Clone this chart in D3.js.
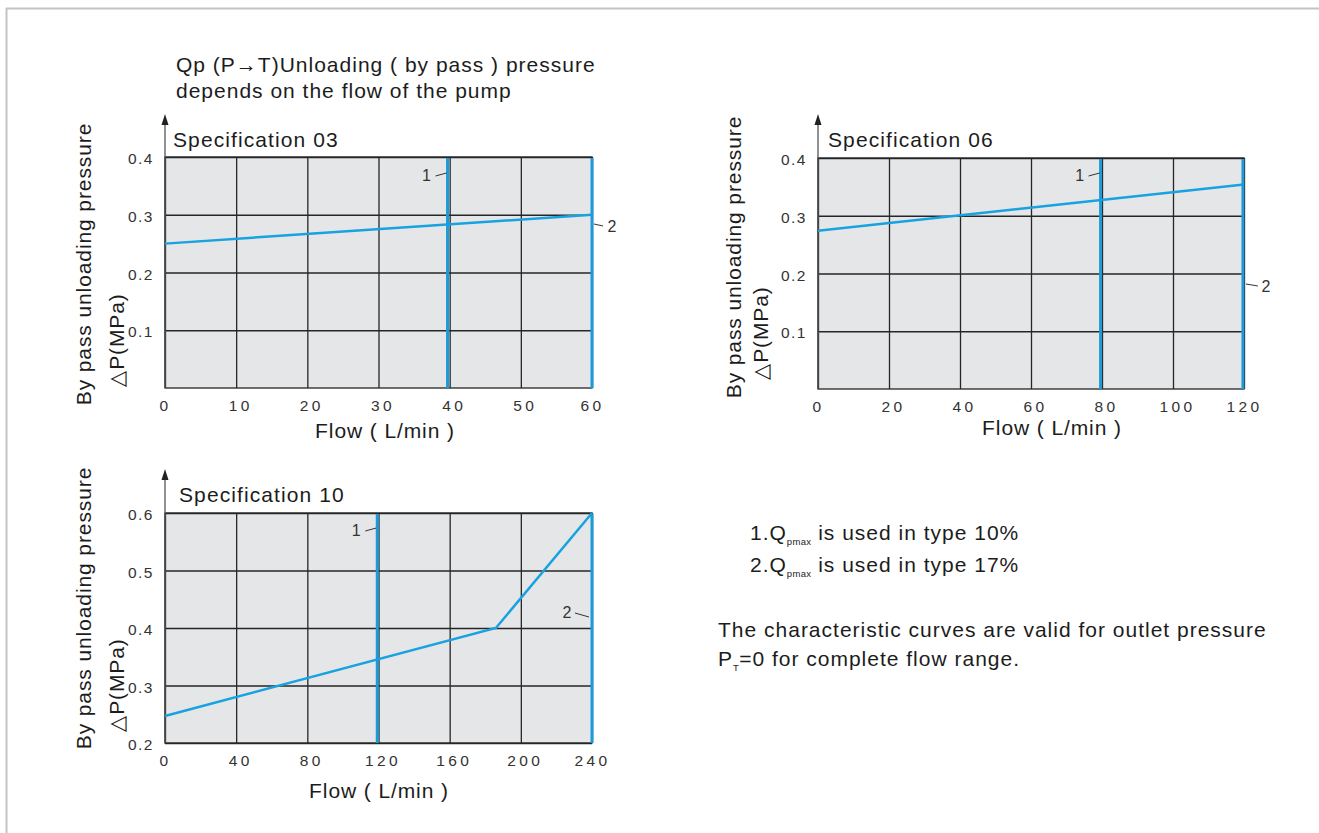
<!DOCTYPE html>
<html><head><meta charset="utf-8">
<script src="https://cdn.jsdelivr.net/npm/d3@7"></script>
<style>
body{margin:0;background:#fff;}
svg{display:block;font-family:"Liberation Sans",Arial,Helvetica,sans-serif;}
</style>
</head><body>
<svg id="c" width="1319" height="833"></svg>
<script>
// ---------------- data ----------------
const spec03Flow = [0, 60];
const spec03Pressure = [0.25, 0.30];
const spec03QpMax = [39.7, 60];
const spec03XTicks = [0, 10, 20, 30, 40, 50, 60];
const spec03YTicks = [0.1, 0.2, 0.3, 0.4];

const spec06Flow = [0, 120];
const spec06Pressure = [0.274, 0.354];
const spec06QpMax = [79.6, 119.7];
const spec06XTicks = [0, 20, 40, 60, 80, 100, 120];
const spec06YTicks = [0.1, 0.2, 0.3, 0.4];

const spec10Flow = [0, 186, 240];
const spec10Pressure = [0.247, 0.40, 0.60];
const spec10QpMax = [119.3, 240];
const spec10XTicks = [0, 40, 80, 120, 160, 200, 240];
const spec10YTicks = [0.2, 0.3, 0.4, 0.5, 0.6];

const qpLabels = ["1", "2"];
const specNames = ["Specification 03", "Specification 06", "Specification 10"];
const titleLines = ["Qp (P\u2192T)Unloading ( by pass ) pressure", "depends on the flow of the pump"];
const yTitleLines = ["By pass unloading pressure", "\u25B3P(MPa)"];
const xTitle = "Flow ( L/min )";

// ---------------- layout ----------------
const svg = d3.select("#c");
const BLUE = "#17a2e0";
const QBLUE = "#1b9bd8";
const GRID = "#262626";
const TXT = "#1c1c1c";
const FS = 21, LS = 1.0;

// page frame
svg.append("line").attr("x1", 6).attr("x2", 1319).attr("y1", 8.5).attr("y2", 8.5)
  .attr("stroke", "#c4c4c4").attr("stroke-width", 2);
svg.append("line").attr("x1", 6.5).attr("x2", 6.5).attr("y1", 8).attr("y2", 833)
  .attr("stroke", "#c4c4c4").attr("stroke-width", 2);

// main title
svg.append("g").selectAll("text").data(titleLines).join("text")
  .attr("x", 176).attr("y", (d, i) => 72 + i * 26)
  .attr("font-size", FS).attr("letter-spacing", LS).attr("fill", TXT).text(d => d);

const charts = [
  { name: specNames[0], flow: spec03Flow, p: spec03Pressure, qp: spec03QpMax, xt: spec03XTicks, yt: spec03YTicks,
    xd: [0, 60], yd: [0, 0.4], L: 165, R: 592, T: 157, B: 388, tip: 114,
    spec: [173, 147], yl: [[91, 264], [124, 340]], xl: [385, 438],
    lab1: { dx: -21, dy: 24, l: [-12, 19, -1, 16] }, lab2: { dx: 20, dy: 75, l: [2, 67, 11, 69] } },
  { name: specNames[1], flow: spec06Flow, p: spec06Pressure, qp: spec06QpMax, xt: spec06XTicks, yt: spec06YTicks,
    xd: [0, 120], yd: [0, 0.4], L: 818, R: 1244, T: 158, B: 389, tip: 114,
    spec: [828, 147], yl: [[741, 257], [768, 333]], xl: [1052, 435],
    lab1: { dx: -21, dy: 23, l: [-12, 18, -1, 15] }, lab2: { dx: 23, dy: 134, l: [3, 126, 15, 128] } },
  { name: specNames[2], flow: spec10Flow, p: spec10Pressure, qp: spec10QpMax, xt: spec10XTicks, yt: spec10YTicks,
    xd: [0, 240], yd: [0.2, 0.6], L: 165, R: 592, T: 513, B: 743, tip: 469,
    spec: [179, 502], yl: [[91, 608], [124, 685]], xl: [379, 798],
    lab1: { dx: -21, dy: 23, l: [-12, 18, -1, 15] }, lab2: { dx: -25, dy: 105, l: [-17, 100, -3, 104] } }
];

charts.forEach(c => {
  const g = svg.append("g");
  const x = d3.scaleLinear().domain(c.xd).range([c.L, c.R]);
  const y = d3.scaleLinear().domain(c.yd).range([c.B, c.T]);

  // plot background
  g.append("rect").attr("x", c.L).attr("y", c.T).attr("width", c.R - c.L).attr("height", c.B - c.T)
    .attr("fill", "#e5e6e8");

  // grid via axes
  g.append("g").attr("transform", `translate(0,${c.B})`)
    .call(d3.axisBottom(x).tickValues(c.xt).tickSize(-(c.B - c.T)).tickFormat(""))
    .call(s => s.select(".domain").remove())
    .call(s => s.selectAll("line").attr("stroke", GRID).attr("stroke-width", 1.3));
  g.append("g").attr("transform", `translate(${c.L},0)`)
    .call(d3.axisLeft(y).tickValues(c.yt).tickSize(-(c.R - c.L)).tickFormat(""))
    .call(s => s.select(".domain").remove())
    .call(s => s.selectAll("line").attr("stroke", GRID).attr("stroke-width", 1.3));

  // frame
  g.append("rect").attr("x", c.L).attr("y", c.T).attr("width", c.R - c.L).attr("height", c.B - c.T)
    .attr("fill", "none").attr("stroke", GRID).attr("stroke-width", 1.3);

  // vertical axis with arrow
  g.append("line").attr("x1", c.L).attr("x2", c.L).attr("y1", c.B).attr("y2", c.tip + 8)
    .attr("stroke", "#555").attr("stroke-width", 1.3);
  g.append("path").attr("d", `M${c.L},${c.tip} L${c.L - 3.5},${c.tip + 11} L${c.L + 3.5},${c.tip + 11} Z`)
    .attr("fill", "#222");

  // tick labels
  g.append("g").attr("transform", `translate(0,${c.B})`)
    .call(d3.axisBottom(x).tickValues(c.xt).tickSize(0).tickPadding(0).tickFormat(d3.format("d")))
    .call(s => s.select(".domain").remove())
    .call(s => s.selectAll("text").attr("dy", 0).attr("y", 23).attr("x", (d, i) => (i === 0 || i === c.xt.length - 1) ? 0 : 4)
      .attr("font-size", 15.5).attr("letter-spacing", 3.4).attr("fill", "#333")
      .attr("font-family", "Liberation Sans, Arial, sans-serif"));
  g.append("g").attr("transform", `translate(${c.L},0)`)
    .call(d3.axisLeft(y).tickValues(c.yt).tickSize(0).tickPadding(11).tickFormat(d3.format(".1f")))
    .call(s => s.select(".domain").remove())
    .call(s => s.selectAll("text").attr("dy", "0.42em").attr("font-size", 15.5)
      .attr("letter-spacing", 1.5).attr("fill", "#333").attr("font-family", "Liberation Sans, Arial, sans-serif"));

  // series line
  const pts = c.flow.map((f, i) => [f, c.p[i]]);
  g.append("path").datum(pts)
    .attr("d", d3.line().x(d => x(d[0])).y(d => y(d[1])))
    .attr("fill", "none").attr("stroke", BLUE).attr("stroke-width", 2.5);

  // Qp max vertical lines
  g.selectAll(".qp").data(c.qp).join("line")
    .attr("x1", d => x(d)).attr("x2", d => x(d))
    .attr("y1", c.T + 1).attr("y2", c.B)
    .attr("stroke", QBLUE).attr("stroke-width", 3);

  // labels 1 and 2
  [c.lab1, c.lab2].forEach((lb, i) => {
    const xm = x(c.qp[i]);
    g.append("text").attr("x", xm + lb.dx).attr("y", c.T + lb.dy).attr("text-anchor", "middle")
      .attr("font-size", 16).attr("fill", "#333").text(qpLabels[i]);
    g.append("line").attr("x1", xm + lb.l[0]).attr("y1", c.T + lb.l[1])
      .attr("x2", xm + lb.l[2]).attr("y2", c.T + lb.l[3])
      .attr("stroke", "#333").attr("stroke-width", 1);
  });

  // specification title
  g.append("text").attr("x", c.spec[0]).attr("y", c.spec[1]).attr("font-size", FS)
    .attr("letter-spacing", 1.1).attr("fill", TXT).text(c.name);

  // y title (two rotated lines)
  yTitleLines.forEach((t, i) => {
    g.append("text").attr("transform", `translate(${c.yl[i][0]},${c.yl[i][1]}) rotate(-90)`)
      .attr("text-anchor", "middle").attr("font-size", FS).attr("letter-spacing", 0.9)
      .attr("fill", TXT).text(t);
  });

  // x title
  g.append("text").attr("x", c.xl[0]).attr("y", c.xl[1]).attr("text-anchor", "middle")
    .attr("font-size", FS).attr("letter-spacing", 0.9).attr("fill", TXT).text(xTitle);
});

// notes
const notes = [
  { x: 750, y: 540, parts: [["1.Q", 0], ["pmax", 1], [" is used in type 10%", 0]] },
  { x: 750, y: 572, parts: [["2.Q", 0], ["pmax", 1], [" is used in type 17%", 0]] },
  { x: 718, y: 637, parts: [["The characteristic curves are valid for outlet pressure", 0]] },
  { x: 718, y: 666, parts: [["P", 0], ["T", 1], ["=0 for complete flow range.", 0]] }
];
notes.forEach(n => {
  const t = svg.append("text").attr("x", n.x).attr("y", n.y).attr("font-size", FS)
    .attr("letter-spacing", LS).attr("fill", TXT);
  n.parts.forEach(([s, sub], k) => {
    const prevSub = k > 0 && n.parts[k - 1][1];
    const ts = t.append("tspan").text(s);
    if (sub) ts.attr("font-size", 9.5).attr("dy", 5).attr("letter-spacing", 0.3);
    else if (prevSub) ts.attr("dy", -5);
  });
});
</script>
</body></html>
